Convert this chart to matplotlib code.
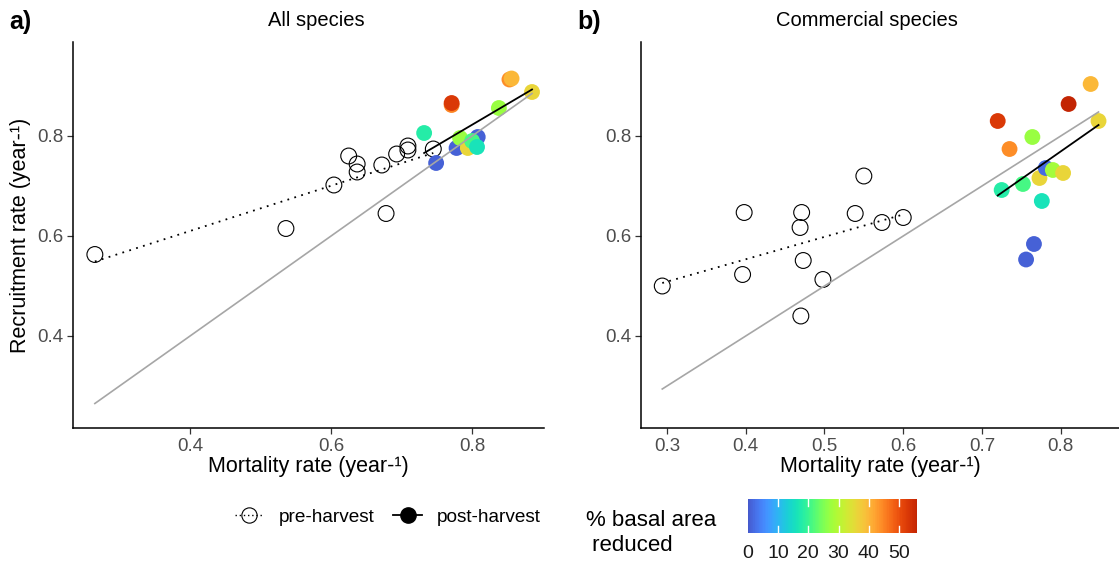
import numpy as np
import matplotlib
matplotlib.use("Agg")
import matplotlib.pyplot as plt
from matplotlib.colors import LinearSegmentedColormap, Normalize
from matplotlib.lines import Line2D
from matplotlib.colorbar import ColorbarBase

plt.rcParams['font.family'] = ['Liberation Sans', 'DejaVu Sans']

# ---- All species ----
all_pre_mort = [0.265, 0.536, 0.604, 0.625, 0.637, 0.637, 0.672, 0.678, 0.693, 0.709, 0.709, 0.745]
all_pre_recr = [0.563, 0.615, 0.702, 0.760, 0.744, 0.728, 0.742, 0.645, 0.764, 0.780, 0.772, 0.774]
all_post_mort = [0.732, 0.771, 0.771, 0.853, 0.856, 0.885, 0.838, 0.749, 0.778, 0.808, 0.783, 0.794, 0.800, 0.807]
all_post_recr = [0.806, 0.862, 0.866, 0.913, 0.915, 0.888, 0.856, 0.746, 0.776, 0.798, 0.796, 0.776, 0.790, 0.778]
all_post_ba = [18, 45, 53, 44, 40, 36, 27, 1, 1, 1, 27, 36, 21, 16]
all_pre_fit = [0.549, 0.766]    # fitted recruitment at min / max pre-harvest mortality
all_post_fit = [0.766, 0.893]   # fitted recruitment at min / max post-harvest mortality

# ---- Commercial species ----
com_pre_mort = [0.294, 0.398, 0.396, 0.471, 0.469, 0.473, 0.470, 0.498, 0.539, 0.573, 0.600, 0.550]
com_pre_recr = [0.500, 0.647, 0.523, 0.647, 0.617, 0.551, 0.440, 0.513, 0.645, 0.627, 0.637, 0.720]
com_post_mort = [0.720, 0.735, 0.764, 0.810, 0.838, 0.848, 0.725, 0.752, 0.773, 0.781, 0.790, 0.803, 0.776, 0.766, 0.756]
com_post_recr = [0.830, 0.774, 0.798, 0.864, 0.904, 0.830, 0.692, 0.704, 0.716, 0.736, 0.732, 0.726, 0.670, 0.584, 0.553]
com_post_ba = [53, 44, 27, 56, 40, 36, 18, 21, 36, 2, 28, 36, 16, 1, 1]
com_pre_fit = [0.506, 0.643]
com_post_fit = [0.681, 0.822]

ba_ticks = [0, 10, 20, 30, 40, 50]
ba_max = 56

turbo = plt.get_cmap('turbo')
cmap = LinearSegmentedColormap.from_list('turbo_cut', turbo(np.linspace(0.1, 0.9, 256)))
norm = Normalize(0, ba_max)

W, H = 1119, 565
fig = plt.figure(figsize=(W / 100, H / 100), dpi=100)

def px_axes(x0, y0, x1, y1):
    return fig.add_axes([x0 / W, 1 - y1 / H, (x1 - x0) / W, (y1 - y0) / H])

axL = px_axes(73, 42, 544, 428)
axR = px_axes(641, 42, 1119, 428)

def panel(ax, pre_x, pre_y, post_x, post_y, post_ba, pre_fit, post_fit, xlim, xticks):
    ax.scatter(pre_x, pre_y, s=130, facecolors='none', edgecolors='black', linewidths=0.8, zorder=3)
    ax.scatter(post_x, post_y, s=130, c=post_ba, cmap=cmap, norm=norm, edgecolors='none', zorder=4)
    allx = list(pre_x) + list(post_x)
    ax.plot([min(allx), max(allx)], [min(allx), max(allx)], color='#a6a6a6', lw=1.2, zorder=5)
    ax.plot([min(pre_x), max(pre_x)], pre_fit, color='black', lw=1.3, ls=(0, (1, 3)), zorder=5)
    ax.plot([min(post_x), max(post_x)], post_fit, color='black', lw=1.3, zorder=6)
    ax.set_xlim(*xlim)
    ax.set_ylim(0.216, 0.988)
    ax.set_xticks(xticks)
    ax.set_xticklabels([f'{t:.1f}' for t in xticks])
    ax.set_yticks([0.4, 0.6, 0.8])
    ax.set_yticklabels(['0.4', '0.6', '0.8'])
    for s in ['top', 'right']:
        ax.spines[s].set_visible(False)
    for s in ['left', 'bottom']:
        ax.spines[s].set_linewidth(1.1)
    ax.tick_params(length=4, width=0.9, color='#333333', labelsize=13.5, labelcolor='#4d4d4d', pad=3)
    ax.set_xlabel('Mortality rate (year-¹)', fontsize=15.5, labelpad=1)

panel(axL, all_pre_mort, all_pre_recr, all_post_mort, all_post_recr, all_post_ba,
      all_pre_fit, all_post_fit, (0.234, 0.902), [0.4, 0.6, 0.8])
panel(axR, com_pre_mort, com_pre_recr, com_post_mort, com_post_recr, com_post_ba,
      com_pre_fit, com_post_fit, (0.267, 0.874), [0.3, 0.4, 0.5, 0.6, 0.7, 0.8])
axL.set_ylabel('Recruitment rate (year-¹)', fontsize=15.5, labelpad=4)

fig.text(316 / W, 1 - 20 / H, 'All species', ha='center', va='center', fontsize=14.5)
fig.text(867 / W, 1 - 20 / H, 'Commercial species', ha='center', va='center', fontsize=14.5)
fig.text(9 / W, 1 - 22 / H, 'a)', ha='left', va='center', fontsize=18, fontweight='bold')
fig.text(577 / W, 1 - 22 / H, 'b)', ha='left', va='center', fontsize=18, fontweight='bold')

# legend for harvest period
handles = [
    Line2D([0], [0], color='black', lw=1.0, ls=(0, (1, 2)), marker='o', markersize=11,
           markerfacecolor='none', markeredgecolor='black', markeredgewidth=0.8),
    Line2D([0], [0], color='black', lw=1.3, marker='o', markersize=11,
           markerfacecolor='black', markeredgecolor='black'),
]
fig.legend(handles, ['pre-harvest', 'post-harvest'], loc='center', bbox_to_anchor=(388 / W, 1 - 517 / H),
           ncol=2, frameon=False, fontsize=13.7, handlelength=1.5, handletextpad=0.8, columnspacing=1.0)

# colour bar for basal area reduction
fig.text(586 / W, 1 - 533 / H, '% basal area\n reduced', ha='left', va='center', fontsize=16, linespacing=1.3)
cax = px_axes(748, 499, 917, 533)
cb = ColorbarBase(cax, cmap=cmap, norm=norm, orientation='horizontal', ticks=ba_ticks)
cb.outline.set_visible(False)
cax.tick_params(axis='x', length=0, labelsize=14, labelcolor='#1a1a1a', pad=9)
cax.set_xticklabels([str(t) for t in ba_ticks])
for t in ba_ticks[1:]:
    cax.plot([t, t], [0, 0.2], color='white', lw=1.0, transform=cax.get_xaxis_transform(), clip_on=False)
    cax.plot([t, t], [0.8, 1.0], color='white', lw=1.0, transform=cax.get_xaxis_transform(), clip_on=False)

fig.savefig('out.png', dpi=100)
